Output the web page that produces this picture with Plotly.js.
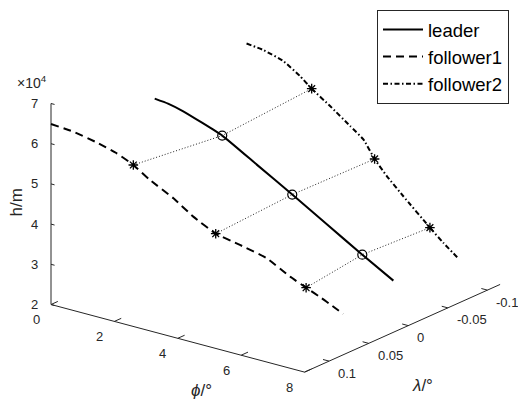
<!DOCTYPE html>
<html><head><meta charset="utf-8">
<script src="https://cdn.plot.ly/plotly-3.0.1.min.js"></script>
<style>html,body{margin:0;padding:0;background:#fff}#chart{width:518px;height:403px}</style>
</head><body><div id="chart"></div>
<script>
// ---- data: phi (deg), lambda (deg), h (m) ----
const leaderPhi = [0, 0.42, 0.90, 2.13, 3.22, 4.34, 5.44, 6.55, 7.53];
const leaderLam = [0, 0, 0, 0, 0, 0, 0, 0, 0];
const leaderH   = [59650, 59290, 58380, 54930, 50000, 44900, 39750, 34600, 30200];

const f1Phi = [0, 0.61, 1.20, 1.79, 2.24, 2.69, 3.33, 3.87, 4.48, 5.14, 5.87, 6.50, 6.94, 7.36, 7.95];
const f1Lam = [0.131, 0.1271, 0.1233, 0.1196, 0.1167, 0.1138, 0.1097, 0.1062, 0.1023, 0.0981, 0.0935, 0.0894, 0.0866, 0.0839, 0.0801];
const f1H   = [64900, 63920, 62340, 60370, 58150, 55130, 51550, 47810, 44500, 42720, 40530, 36940, 34850, 32890, 29890];

const f2Phi = [0, 0.59, 1.30, 1.89, 2.31, 2.96, 3.67, 4.14, 4.54, 4.97, 5.55, 6.50, 6.97, 7.48];
const f2Lam = [-0.116, -0.1134, -0.1103, -0.1077, -0.1058, -0.1030, -0.0999, -0.0978, -0.0960, -0.0942, -0.0916, -0.0874, -0.0853, -0.0831];
const f2H   = [63100, 62980, 62010, 59750, 57640, 54930, 51720, 49580, 45700, 42520, 39000, 33500, 30940, 28480];

// simultaneous positions (markers joined by dotted lines)
const leaderMkPhi = [2.13, 4.34, 6.55];
const leaderMkLam = [0, 0, 0];
const leaderMkH   = [54930, 44900, 34600];
const f1MkPhi = [2.24, 4.48, 6.94];
const f1MkLam = [0.1167, 0.1023, 0.0866];
const f1MkH   = [58150, 44500, 34850];
const f2MkPhi = [2.31, 4.54, 6.50];
const f2MkLam = [-0.1058, -0.0960, -0.0874];
const f2MkH   = [57640, 45700, 33500];

// ---- axes ----
const phiLim = [0, 8];
const lamLim = [-0.116, 0.131];
const hLim = [20000, 70000];
const phiTicks = [0, 2, 4, 6, 8];
const phiTickText = ['0', '2', '4', '6', '8'];
const lamTicks = [-0.1, -0.05, 0, 0.05, 0.1];
const lamTickText = ['-0.1', '-0.05', '0', '0.05', '0.1'];
const hTicks = [20000, 30000, 40000, 50000, 60000, 70000];
const hTickText = ['2', '3', '4', '5', '6', '7'];

// ---- orthographic 3-D view (azimuth / elevation), lambda axis reversed ----
const AZ = 37.64 * Math.PI / 180, EL = 20.23 * Math.PI / 180, Z_ASPECT = 0.669;
function projUVW(u, v, w) {
  return [Math.cos(AZ) * u + Math.sin(AZ) * v,
          -Math.sin(AZ) * Math.sin(EL) * u + Math.cos(AZ) * Math.sin(EL) * v + Math.cos(EL) * Z_ASPECT * w];
}
function toU(phi) { return (phi - phiLim[0]) / (phiLim[1] - phiLim[0]); }
function toV(lam) { return (lamLim[1] - lam) / (lamLim[1] - lamLim[0]); }
function toW(h) { return (h - hLim[0]) / (hLim[1] - hLim[0]); }
function proj(phi, lam, h) { return projUVW(toU(phi), toV(lam), toW(h)); }
function projSeries(P, L, H) {
  const xs = [], ys = [];
  for (let i = 0; i < P.length; i++) { const p = proj(P[i], L[i], H[i]); xs.push(p[0]); ys.push(p[1]); }
  return {x: xs, y: ys};
}

const FONT = 'Liberation Sans, Arial, Helvetica, sans-serif';
const AX = '#262626';
const traces = [];
const annotations = [];

// axis lines and ticks
(function () {
  const xs = [], ys = [];
  function seg(a, b) { xs.push(a[0], b[0], null); ys.push(a[1], b[1], null); }
  seg(projUVW(0, 0, 0), projUVW(1, 0, 0));   // phi axis
  seg(projUVW(1, 0, 0), projUVW(1, 1, 0));   // lambda axis
  seg(projUVW(0, 0, 0), projUVW(0, 0, 1));   // h axis
  phiTicks.forEach(t => { const u = toU(t); seg(projUVW(u, 0, 0), projUVW(u, 0.035, 0)); });
  lamTicks.forEach(t => { const v = toV(t); seg(projUVW(1, v, 0), projUVW(1 - 0.024, v, 0)); });
  hTicks.forEach(t => { const w = toW(t); seg(projUVW(0, 0, w), projUVW(0.014, 0, w)); });
  traces.push({type:'scatter', mode:'lines', x:xs, y:ys, showlegend:false, hoverinfo:'skip',
    line:{color:AX, width:1}});
  phiTicks.forEach((t, i) => { const p = projUVW(toU(t), 0, 0);
    annotations.push({x:p[0], y:p[1], xref:'x', yref:'y', text:phiTickText[i], showarrow:false,
      xanchor:'center', yanchor:'middle', xshift:-15, yshift:-15, font:{family:FONT, size:13, color:AX}}); });
  lamTicks.forEach((t, i) => { const p = projUVW(1, toV(t), 0);
    annotations.push({x:p[0], y:p[1], xref:'x', yref:'y', text:lamTickText[i], showarrow:false,
      xanchor:'left', yanchor:'middle', xshift:7, yshift:-12, font:{family:FONT, size:13, color:AX}}); });
  hTicks.forEach((t, i) => { const p = projUVW(0, 0, toW(t));
    annotations.push({x:p[0], y:p[1], xref:'x', yref:'y', text:hTickText[i], showarrow:false,
      xanchor:'right', yanchor:'middle', xshift:-11, yshift:0, font:{family:FONT, size:13, color:AX}}); });
})();

const sL = projSeries(leaderPhi, leaderLam, leaderH);
const s1 = projSeries(f1Phi, f1Lam, f1H);
const s2 = projSeries(f2Phi, f2Lam, f2H);

traces.push({type:'scatter', mode:'lines', name:'leader', x:sL.x, y:sL.y,
  line:{color:'#000', width:2, shape:'spline', smoothing:0.4}});
traces.push({type:'scatter', mode:'lines', name:'follower1', x:s1.x, y:s1.y,
  line:{color:'#000', width:2, dash:'8px,5px', shape:'spline', smoothing:0.4}});
traces.push({type:'scatter', mode:'lines', name:'follower2', x:s2.x, y:s2.y,
  line:{color:'#000', width:2, dash:'5px,2.5px,1.5px,2.5px', shape:'spline', smoothing:0.4}});

// dotted links between simultaneous positions
(function () {
  const xs = [], ys = [];
  for (let k = 0; k < leaderMkPhi.length; k++) {
    const a = proj(f1MkPhi[k], f1MkLam[k], f1MkH[k]);
    const b = proj(leaderMkPhi[k], leaderMkLam[k], leaderMkH[k]);
    const c = proj(f2MkPhi[k], f2MkLam[k], f2MkH[k]);
    xs.push(a[0], b[0], c[0], null); ys.push(a[1], b[1], c[1], null);
  }
  traces.push({type:'scatter', mode:'lines', x:xs, y:ys, showlegend:false, hoverinfo:'skip',
    line:{color:'#222', width:1, dash:'1px,2px'}});
})();

const mL = projSeries(leaderMkPhi, leaderMkLam, leaderMkH);
const m1 = projSeries(f1MkPhi, f1MkLam, f1MkH);
const m2 = projSeries(f2MkPhi, f2MkLam, f2MkH);
traces.push({type:'scatter', mode:'markers', x:mL.x, y:mL.y, showlegend:false, hoverinfo:'skip',
  marker:{symbol:'circle-open', size:9, color:'#000', line:{color:'#000', width:1.2}}});
traces.push({type:'scatter', mode:'markers', x:m1.x.concat(m2.x), y:m1.y.concat(m2.y), showlegend:false, hoverinfo:'skip',
  marker:{symbol:'asterisk-open', size:8, color:'#000', line:{color:'#000', width:1.3}}});

annotations.push(
  {xref:'paper', yref:'paper', x:15/518, y:1-82/403, xanchor:'left', yanchor:'middle', showarrow:false,
   text:'×10<sup>4</sup>', font:{family:FONT, size:14, color:AX}},
  {xref:'paper', yref:'paper', x:15.5/518, y:1-203/403, xanchor:'center', yanchor:'middle', showarrow:false,
   text:'h/m', textangle:-90, font:{family:FONT, size:17, color:AX}},
  {xref:'paper', yref:'paper', x:201/518, y:1-390/403, xanchor:'center', yanchor:'middle', showarrow:false,
   text:'<i>ϕ</i>/°', font:{family:FONT, size:17, color:AX}},
  {xref:'paper', yref:'paper', x:422/518, y:1-385/403, xanchor:'center', yanchor:'middle', showarrow:false,
   text:'<i>λ</i>/°', font:{family:FONT, size:17, color:AX}}
);

// plot area mapped so that the box origin sits at its place in the figure
const S = 320.2;
const layout = {
  width:518, height:403, margin:{l:0, r:0, t:0, b:0},
  paper_bgcolor:'#fff', plot_bgcolor:'rgba(0,0,0,0)',
  font:{family:FONT, color:'#000'}, hovermode:false,
  xaxis:{range:[-51/S, (518-51)/S], visible:false, fixedrange:true},
  yaxis:{range:[-(403-304.5)/S, 304.5/S], visible:false, fixedrange:true},
  showlegend:true,
  legend:{x:377/518, y:1-10/403, xanchor:'left', yanchor:'top', bgcolor:'#fff',
    bordercolor:AX, borderwidth:1, tracegroupgap:0, itemwidth:40,
    font:{family:FONT, size:18.5, color:'#000'}},
  annotations:annotations
};

Plotly.newPlot('chart', traces, layout, {displayModeBar:false, staticPlot:true});
</script>
</body></html>
